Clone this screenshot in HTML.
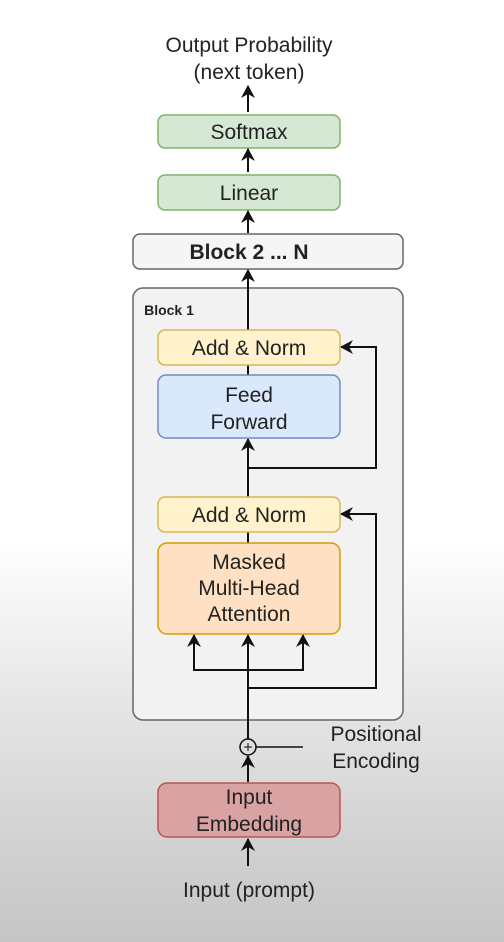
<!DOCTYPE html>
<html><head><style>
html,body{margin:0;padding:0;width:504px;height:942px;overflow:hidden;
background:linear-gradient(to bottom,#fff 0px,#fff 540px,#e6e6e6 700px,#cfcfcf 860px,#c6c6c6 942px);}
svg{position:absolute;left:0;top:0}
text{font-family:"Liberation Sans",sans-serif;fill:#222;text-anchor:middle;font-size:21px}
</style></head><body>
<svg width="504" height="942" viewBox="0 0 504 942">
<defs><marker id="a" markerWidth="14" markerHeight="14" refX="12" refY="7" orient="auto" markerUnits="userSpaceOnUse"><path d="M0,0 L13,7 L0,14 L4,7 z" fill="#111"/></marker></defs>
<text x="249" y="52">Output Probability</text>
<text x="249" y="79">(next token)</text>
<rect x="158" y="115" width="182" height="33" rx="7" fill="#d5e8d4" stroke="#82b366" stroke-width="1.5"/>
<text x="249" y="139">Softmax</text>
<rect x="158" y="175" width="182" height="35" rx="7" fill="#d5e8d4" stroke="#82b366" stroke-width="1.5"/>
<text x="249" y="200">Linear</text>
<rect x="133" y="234" width="270" height="35" rx="7" fill="#f5f5f5" stroke="#666" stroke-width="1.5"/>
<text x="249" y="259" font-weight="bold">Block 2 ... N</text>
<rect x="133" y="288" width="270" height="432" rx="10" fill="#f2f2f2" stroke="#666" stroke-width="1.5"/>
<text x="169" y="315" style="font-size:14px" font-weight="bold">Block 1</text>
<g stroke="#111" stroke-width="2" fill="none">
<line x1="248" y1="112" x2="248" y2="86" marker-end="url(#a)"/>
<line x1="248" y1="172" x2="248" y2="149" marker-end="url(#a)"/>
<line x1="248" y1="233" x2="248" y2="211" marker-end="url(#a)"/>
<line x1="248" y1="330" x2="248" y2="270" marker-end="url(#a)"/>
<line x1="248" y1="365" x2="248" y2="375"/>
<line x1="248" y1="497" x2="248" y2="439" marker-end="url(#a)"/>
<polyline points="248,468 376,468 376,347 341,347" marker-end="url(#a)"/>
<line x1="248" y1="532" x2="248" y2="543"/>
<line x1="248" y1="739" x2="248" y2="635" marker-end="url(#a)"/>
<polyline points="194,670 194,635" marker-end="url(#a)"/>
<polyline points="303,670 303,635" marker-end="url(#a)"/>
<line x1="193" y1="670" x2="304" y2="670"/>
<polyline points="248,688 376,688 376,514 341,514" marker-end="url(#a)"/>
<circle cx="248" cy="747" r="8" stroke-width="1.5"/>
<line x1="244" y1="747" x2="252" y2="747" stroke-width="1"/>
<line x1="248" y1="743" x2="248" y2="751" stroke-width="1"/>
<line x1="256" y1="747" x2="303" y2="747" stroke-width="1.5"/>
<line x1="248" y1="782" x2="248" y2="756" marker-end="url(#a)"/>
<line x1="248" y1="866" x2="248" y2="839" marker-end="url(#a)"/>
</g>
<rect x="158" y="330" width="182" height="35" rx="7" fill="#fff2cc" stroke="#d6b656" stroke-width="1.5"/>
<text x="249" y="355">Add &amp; Norm</text>
<rect x="158" y="375" width="182" height="63" rx="8" fill="#dae8fc" stroke="#6c8ebf" stroke-width="1.5"/>
<text x="249" y="402">Feed</text>
<text x="249" y="429">Forward</text>
<rect x="158" y="497" width="182" height="35" rx="7" fill="#fff2cc" stroke="#d6b656" stroke-width="1.5"/>
<text x="249" y="522">Add &amp; Norm</text>
<rect x="158" y="543" width="182" height="91" rx="9" fill="#ffe0c2" stroke="#d79b00" stroke-width="1.5"/>
<text x="249" y="569">Masked</text>
<text x="249" y="595">Multi-Head</text>
<text x="249" y="621">Attention</text>
<text x="376" y="741">Positional</text>
<text x="376" y="768">Encoding</text>
<rect x="158" y="783" width="182" height="54" rx="9" fill="#d9a3a3" stroke="#b85450" stroke-width="1.5"/>
<text x="249" y="804">Input</text>
<text x="249" y="831">Embedding</text>
<text x="249" y="897">Input (prompt)</text>
</svg>
</body></html>
